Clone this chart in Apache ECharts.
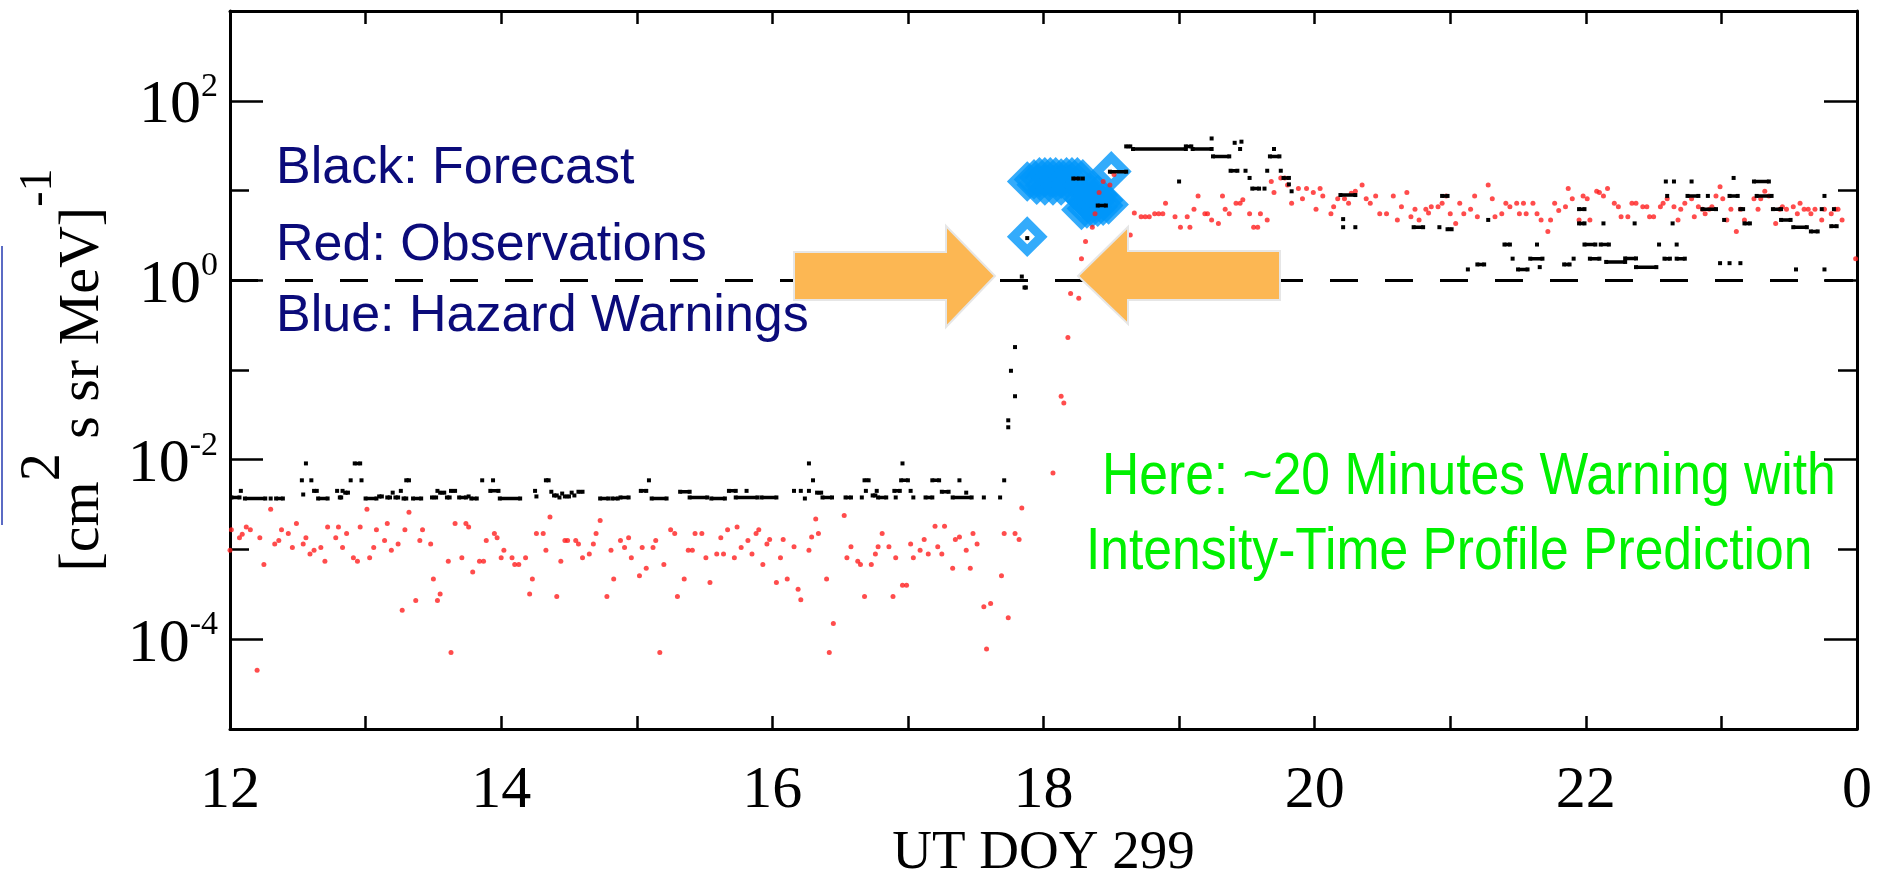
<!DOCTYPE html>
<html>
<head>
<meta charset="utf-8">
<script src="https://cdn.jsdelivr.net/npm/echarts@6/dist/echarts.min.js"></script>
<style>
  html, body { margin: 0; padding: 0; background: #fff; }
  #main { width: 1881px; height: 870px; }
</style>
</head>
<body>
<div id="main"></div>
<script>
// UT hour of DOY 299 (24 = 0 of next day), flux in (cm2 s sr MeV)^-1

// red: observations [hour, flux]
const observed = [
  [12.00, 9.8e-4], [12.01, 1.66e-3], [12.07, 1.35e-3], [12.09, 1.48e-3], [12.12, 1.78e-3], [12.15, 1.66e-3],
  [12.20, 4.5e-5], [12.22, 1.35e-3], [12.25, 6.8e-4], [12.30, 2.8e-3], [12.33, 1.15e-3], [12.36, 1.26e-3],
  [12.38, 1.66e-3], [12.43, 1.51e-3], [12.46, 1.05e-3], [12.49, 1.95e-3], [12.54, 1.15e-3], [12.56, 1.35e-3],
  [12.59, 8.9e-4], [12.62, 9.8e-4], [12.67, 1.05e-3], [12.70, 7.4e-4], [12.72, 1.78e-3], [12.78, 1.35e-3],
  [12.80, 1.78e-3], [12.83, 1.05e-3], [12.86, 1.51e-3], [12.91, 8.1e-4], [12.94, 7.4e-4], [12.96, 1.78e-3],
  [13.01, 2.8e-3], [13.03, 8.1e-4], [13.06, 1.05e-3], [13.08, 1.66e-3], [13.14, 1.26e-3], [13.16, 1.95e-3],
  [13.19, 9.8e-4], [13.24, 1.15e-3], [13.27, 2.1e-4], [13.29, 1.66e-3], [13.32, 2.6e-3], [13.37, 2.7e-4],
  [13.40, 1.26e-3], [13.42, 1.66e-3], [13.48, 1.15e-3], [13.50, 4.7e-4], [13.53, 2.7e-4], [13.55, 3.2e-4],
  [13.61, 7.4e-4], [13.63, 7.1e-5], [13.66, 1.95e-3], [13.71, 8.1e-4], [13.74, 1.95e-3], [13.76, 1.78e-3],
  [13.79, 5.6e-4], [13.84, 7.4e-4], [13.87, 7.4e-4], [13.89, 1.26e-3], [13.95, 1.51e-3], [13.97, 1.35e-3],
  [14.00, 8.1e-4], [14.02, 9.8e-4], [14.08, 8.1e-4], [14.10, 6.8e-4], [14.13, 6.8e-4], [14.18, 8.1e-4],
  [14.21, 3.2e-4], [14.23, 4.7e-4], [14.26, 1.51e-3], [14.31, 1.51e-3], [14.33, 9.8e-4], [14.36, 2.3e-3],
  [14.41, 3.0e-4], [14.44, 7.4e-4], [14.47, 1.26e-3], [14.49, 1.26e-3], [14.55, 1.26e-3], [14.57, 1.15e-3],
  [14.60, 8.1e-4], [14.65, 8.9e-4], [14.68, 1.15e-3], [14.70, 1.51e-3], [14.73, 2.1e-3], [14.78, 3.0e-4],
  [14.81, 9.8e-4], [14.83, 4.7e-4], [14.88, 1.26e-3], [14.91, 1.05e-3], [14.94, 1.35e-3], [14.96, 8.1e-4],
  [15.02, 5.1e-4], [15.04, 1.05e-3], [15.07, 6.2e-4], [15.12, 1.05e-3], [15.14, 1.26e-3], [15.17, 7.1e-5],
  [15.20, 6.8e-4], [15.25, 1.66e-3], [15.28, 1.51e-3], [15.30, 3.0e-4], [15.35, 4.7e-4], [15.38, 9.8e-4],
  [15.41, 9.8e-4], [15.43, 1.51e-3], [15.48, 1.51e-3], [15.51, 8.1e-4], [15.54, 4.3e-4], [15.59, 8.9e-4],
  [15.62, 1.35e-3], [15.64, 8.9e-4], [15.67, 1.66e-3], [15.72, 8.1e-4], [15.74, 1.78e-3], [15.77, 1.05e-3],
  [15.82, 1.26e-3], [15.85, 8.9e-4], [15.88, 1.51e-3], [15.90, 1.66e-3], [15.93, 6.8e-4], [15.96, 1.15e-3],
  [15.98, 1.29e-3], [16.03, 4.3e-4], [16.06, 8.1e-4], [16.08, 1.29e-3], [16.11, 4.7e-4], [16.16, 1.07e-3],
  [16.19, 3.6e-4], [16.21, 2.75e-4], [16.27, 9.8e-4], [16.29, 1.38e-3], [16.32, 2.19e-3], [16.34, 1.51e-3],
  [16.40, 4.7e-4], [16.42, 7.1e-5], [16.45, 1.5e-4], [16.53, 2.4e-3], [16.55, 8.1e-4], [16.58, 1.07e-3],
  [16.63, 7.4e-4], [16.65, 6.8e-4], [16.68, 3.0e-4], [16.73, 6.8e-4], [16.76, 8.9e-4], [16.78, 1.07e-3],
  [16.81, 1.51e-3], [16.86, 1.07e-3], [16.89, 3.0e-4], [16.91, 8.1e-4], [16.96, 4.0e-4], [16.99, 4.0e-4],
  [17.02, 1.15e-3], [17.04, 8.1e-4], [17.09, 9.8e-4], [17.12, 1.29e-3], [17.15, 8.9e-4], [17.20, 1.82e-3],
  [17.22, 1.07e-3], [17.25, 8.9e-4], [17.27, 1.82e-3], [17.33, 6.2e-4], [17.35, 1.29e-3], [17.38, 1.38e-3],
  [17.43, 9.8e-4], [17.46, 6.2e-4], [17.48, 1.51e-3], [17.51, 1.15e-3], [17.56, 2.3e-4], [17.58, 7.8e-5],
  [17.61, 2.5e-4], [17.69, 5.1e-4], [17.71, 1.51e-3], [17.74, 1.74e-4], [17.79, 1.51e-3], [17.82, 1.29e-3],
  [17.84, 2.9e-3], [18.07, 7.1e-3], [18.13, 5.1e-2], [18.15, 4.3e-2], [18.18, 0.23], [18.20, 0.71],
  [18.26, 0.63], [18.28, 1.74], [18.31, 2.7], [18.36, 3.9], [18.38, 5.5], [18.41, 9.5],
  [18.44, 12.6], [18.49, 11.5], [18.52, 15.1], [18.64, 3.2], [18.67, 5.6], [18.72, 5.1],
  [18.75, 5.1], [18.78, 5.1], [18.82, 5.5], [18.85, 5.5], [18.88, 5.5], [18.90, 7.2],
  [18.97, 5.1], [19.01, 3.9], [19.06, 5.1], [19.08, 3.9], [19.11, 6.2], [19.14, 8.7],
  [19.19, 5.5], [19.21, 5.5], [19.24, 4.7], [19.29, 4.3], [19.32, 8.7], [19.34, 6.2],
  [19.37, 5.5], [19.42, 7.2], [19.45, 7.2], [19.47, 7.9], [19.52, 5.5], [19.55, 3.9],
  [19.58, 3.9], [19.60, 5.5], [19.65, 4.7], [19.68, 12.6], [19.70, 9.5], [19.75, 13.8],
  [19.78, 13.8], [19.80, 11.5], [19.83, 7.2], [19.88, 10.5], [19.91, 8.1], [19.94, 10.5],
  [19.99, 9.5], [20.01, 6.2], [20.04, 10.5], [20.06, 8.7], [20.12, 5.5], [20.14, 6.6],
  [20.17, 8.1], [20.22, 8.1], [20.25, 7.2], [20.27, 9.3], [20.30, 9.8], [20.35, 11.5],
  [20.38, 8.1], [20.41, 7.2], [20.45, 8.7], [20.48, 5.5], [20.53, 5.5], [20.58, 8.7],
  [20.61, 4.7], [20.64, 6.6], [20.68, 9.5], [20.71, 5.1], [20.74, 6.2], [20.77, 4.7],
  [20.82, 6.2], [20.84, 5.6], [20.86, 6.6], [20.91, 6.6], [20.94, 7.2], [20.97, 8.7],
  [21.00, 5.5], [21.04, 4.3], [21.07, 7.2], [21.10, 5.5], [21.15, 6.2], [21.18, 8.7],
  [21.20, 5.1], [21.28, 11.5], [21.31, 8.1], [21.33, 5.1], [21.38, 5.5], [21.41, 7.2],
  [21.44, 6.6], [21.49, 7.2], [21.51, 5.5], [21.54, 7.2], [21.56, 5.5], [21.61, 7.2],
  [21.64, 5.5], [21.67, 4.7], [21.72, 3.5], [21.74, 4.7], [21.77, 7.2], [21.80, 6.0],
  [21.85, 6.6], [21.87, 10.5], [21.90, 8.1], [21.95, 4.7], [21.98, 8.7], [22.01, 8.1],
  [22.03, 4.7], [22.08, 9.8], [22.10, 9.5], [22.13, 8.7], [22.16, 10.5], [22.21, 7.2],
  [22.24, 6.6], [22.26, 5.1], [22.31, 5.1], [22.34, 7.2], [22.37, 7.2], [22.42, 6.6],
  [22.45, 6.6], [22.47, 5.1], [22.50, 5.1], [22.55, 6.6], [22.57, 7.2], [22.60, 8.1],
  [22.65, 6.6], [22.68, 4.7], [22.70, 6.2], [22.73, 7.2], [22.78, 8.1], [22.80, 5.1],
  [22.83, 6.6], [22.86, 6.2], [22.88, 5.5], [22.91, 6.2], [22.93, 6.6], [22.96, 8.7],
  [22.99, 11.0], [23.01, 8.1], [23.04, 4.7], [23.07, 6.2], [23.11, 3.5], [23.14, 6.2],
  [23.17, 4.7], [23.24, 8.1], [23.27, 6.2], [23.29, 8.1], [23.32, 9.8], [23.35, 8.7],
  [23.40, 4.3], [23.43, 6.2], [23.45, 6.6], [23.48, 6.2], [23.53, 6.6], [23.56, 5.5],
  [23.58, 7.2], [23.61, 6.2], [23.64, 6.2], [23.66, 5.5], [23.69, 6.2], [23.74, 4.7],
  [23.76, 6.2], [23.81, 5.5], [23.84, 6.2], [23.86, 6.2], [23.89, 4.7], [23.99, 1.74]
];

// black: forecast, as flat runs [from hour, to hour, flux]; from == to is a single dot
const forecastRuns = [
  [12.01, 12.07, 3.8e-3], [12.08, 12.08, 4.5e-3], [12.11, 12.26, 3.7e-3], [12.30, 12.30, 3.7e-3],
  [12.34, 12.39, 3.7e-3], [12.54, 12.54, 4.1e-3], [12.56, 12.56, 9.1e-3], [12.53, 12.53, 5.9e-3],
  [12.60, 12.60, 5.9e-3], [12.62, 12.64, 4.5e-3], [12.65, 12.72, 3.7e-3], [12.79, 12.79, 4.5e-3],
  [12.81, 12.82, 3.8e-3], [12.83, 12.83, 4.5e-3], [12.85, 12.87, 4.3e-3], [12.89, 12.89, 5.9e-3],
  [12.97, 12.97, 5.9e-3], [12.92, 12.96, 9.1e-3], [13.00, 13.08, 3.7e-3], [13.10, 13.12, 3.9e-3],
  [13.16, 13.18, 3.8e-3], [13.20, 13.20, 4.3e-3], [13.22, 13.24, 3.8e-3], [13.26, 13.26, 4.5e-3],
  [13.28, 13.30, 3.7e-3], [13.30, 13.32, 5.9e-3], [13.35, 13.41, 3.7e-3], [13.49, 13.52, 3.8e-3],
  [13.53, 13.53, 4.5e-3], [13.55, 13.58, 4.3e-3], [13.60, 13.62, 3.8e-3], [13.63, 13.66, 4.5e-3],
  [13.69, 13.74, 3.8e-3], [13.76, 13.76, 3.9e-3], [13.78, 13.82, 3.7e-3], [13.86, 13.86, 5.9e-3],
  [13.94, 13.94, 5.9e-3], [13.92, 13.98, 4.5e-3], [13.99, 14.14, 3.7e-3], [14.25, 14.25, 4.5e-3],
  [14.26, 14.26, 3.9e-3], [14.33, 14.35, 5.9e-3], [14.37, 14.37, 4.4e-3], [14.39, 14.41, 4.0e-3],
  [14.43, 14.43, 3.8e-3], [14.45, 14.45, 4.2e-3], [14.47, 14.50, 3.9e-3], [14.52, 14.52, 4.3e-3],
  [14.54, 14.54, 4.0e-3], [14.57, 14.60, 4.4e-3], [14.73, 14.79, 3.7e-3], [14.82, 14.86, 3.7e-3],
  [14.88, 14.94, 3.8e-3], [15.03, 15.07, 4.5e-3], [15.09, 15.09, 5.9e-3], [15.11, 15.22, 3.7e-3],
  [15.32, 15.39, 4.4e-3], [15.39, 15.52, 3.8e-3], [15.55, 15.65, 3.7e-3], [15.68, 15.73, 4.5e-3],
  [15.73, 15.89, 3.8e-3], [15.81, 15.81, 4.5e-3], [15.92, 16.03, 3.8e-3], [16.16, 16.16, 4.5e-3],
  [16.21, 16.21, 4.5e-3], [16.27, 16.27, 4.5e-3], [16.24, 16.24, 3.7e-3], [16.30, 16.30, 5.9e-3],
  [16.27, 16.27, 9.1e-3], [16.33, 16.36, 4.3e-3], [16.37, 16.44, 3.8e-3], [16.54, 16.58, 3.8e-3],
  [16.66, 16.66, 3.8e-3], [16.68, 16.71, 5.9e-3], [16.69, 16.69, 4.5e-3], [16.74, 16.76, 4.0e-3],
  [16.77, 16.77, 4.5e-3], [16.78, 16.84, 3.8e-3], [16.90, 16.94, 4.5e-3], [16.91, 16.91, 3.8e-3],
  [16.96, 16.96, 9.1e-3], [16.95, 17.00, 5.9e-3], [17.02, 17.02, 4.5e-3], [17.04, 17.04, 3.8e-3],
  [17.13, 17.18, 3.8e-3], [17.18, 17.23, 5.9e-3], [17.25, 17.30, 4.4e-3], [17.33, 17.47, 3.8e-3],
  [17.38, 17.38, 5.9e-3], [17.43, 17.43, 4.3e-3], [17.56, 17.56, 3.8e-3], [17.68, 17.68, 3.8e-3],
  [17.71, 17.71, 5.9e-3], [17.74, 17.74, 2.75e-2], [17.74, 17.74, 2.3e-2], [17.79, 17.79, 5.1e-2],
  [17.76, 17.76, 9.8e-2], [17.79, 17.79, 0.18], [17.84, 17.84, 1.1], [17.86, 17.87, 0.83],
  [17.88, 17.88, 2.95], [18.22, 18.26, 13.6], [18.29, 18.29, 13.6], [18.40, 18.46, 6.8],
  [18.49, 18.61, 16.2], [18.61, 18.64, 31], [18.66, 19.05, 29], [19.05, 19.09, 31],
  [19.10, 19.24, 29], [19.24, 19.24, 38], [19.25, 19.37, 24], [19.41, 19.41, 34],
  [19.46, 19.46, 35], [19.45, 19.45, 29], [19.70, 19.70, 29], [19.67, 19.74, 24],
  [19.00, 19.00, 12.6], [19.38, 19.43, 16.6], [19.49, 19.49, 16.6], [19.52, 19.52, 13.8],
  [19.65, 19.65, 16.6], [19.75, 19.75, 16.6], [19.77, 19.81, 13.8], [19.81, 19.81, 11.7],
  [19.83, 19.83, 9.8], [19.54, 19.59, 10.5], [19.63, 19.63, 10.5], [20.19, 20.30, 8.9],
  [20.21, 20.21, 4.8], [20.21, 20.21, 3.9], [20.30, 20.30, 3.9], [20.73, 20.80, 3.9],
  [20.92, 20.92, 3.9], [20.98, 21.01, 3.7], [20.94, 20.98, 8.7], [21.13, 21.13, 1.32],
  [21.20, 21.25, 1.5], [21.28, 21.28, 4.7], [21.40, 21.44, 2.5], [21.46, 21.46, 1.74],
  [21.50, 21.57, 1.32], [21.59, 21.68, 1.74], [21.64, 21.64, 2.5], [21.66, 21.66, 1.4],
  [21.84, 21.88, 1.5], [21.91, 21.91, 1.74], [21.95, 21.99, 6.2], [21.95, 21.99, 4.3],
  [21.99, 22.07, 2.5], [22.11, 22.17, 2.5], [22.03, 22.10, 1.74], [22.15, 22.29, 1.6],
  [22.29, 22.37, 1.75], [22.37, 22.52, 1.4], [22.13, 22.13, 4.3], [22.36, 22.36, 4.3],
  [22.54, 22.54, 2.5], [22.58, 22.62, 1.74], [22.67, 22.67, 2.5], [22.67, 22.73, 1.74],
  [22.64, 22.64, 4.3], [22.59, 22.59, 12.6], [22.65, 22.65, 12.6], [22.60, 22.60, 8.7],
  [22.78, 22.78, 12.6], [22.75, 22.83, 8.7], [22.90, 22.90, 8.7], [22.86, 22.96, 6.2],
  [22.99, 22.99, 1.55], [23.02, 23.02, 4.7], [23.06, 23.06, 1.55], [23.14, 23.14, 1.55],
  [23.09, 23.09, 13.8], [23.06, 23.12, 8.7], [23.14, 23.16, 6.2], [23.17, 23.21, 4.3],
  [23.24, 23.35, 12.6], [23.26, 23.37, 8.7], [23.38, 23.44, 6.2], [23.44, 23.51, 4.7],
  [23.53, 23.63, 3.9], [23.66, 23.71, 3.5], [23.55, 23.55, 1.32], [23.76, 23.76, 1.32],
  [23.76, 23.76, 8.7], [23.74, 23.74, 6.2], [23.81, 23.85, 4.0], [23.83, 23.83, 6.2]
];

// blue: hazard warnings [hour, flux]
const warnings = [
  [17.88, 3.06],
  [17.88, 12.6], [17.93, 13.3], [17.97, 14.0], [18.01, 14.0], [18.05, 14.0], [18.09, 14.0],
  [18.13, 13.6], [18.17, 14.0], [18.21, 14.0], [18.25, 14.0], [18.29, 13.3],
  [17.95, 11.6], [18.01, 11.4], [18.07, 11.4], [18.13, 11.4], [18.19, 11.6],
  [18.34, 9.5], [18.40, 8.9], [18.30, 8.0],
  [18.28, 6.1], [18.32, 6.3], [18.36, 6.5], [18.40, 6.6], [18.44, 6.8], [18.48, 7.0],
  [18.32, 7.5], [18.38, 7.6], [18.44, 7.8],
  [18.50, 16.3]
];

const threshold = 1;
const xLabelHours = [12, 14, 16, 18, 20, 22, 24];
const xLabelText = ['12', '14', '16', '18', '20', '22', '0'];
const yLabelValues = [1e-4, 1e-2, 1, 1e2];
const yLabelExp = ['-4', '-2', '0', '2'];

const forecastLine = [];
forecastRuns.forEach(([a, b, v]) => {
  forecastLine.push([a, v]);
  if (b !== a) forecastLine.push([b, v]);
  forecastLine.push([b, '-']);
});

const serif = '"Liberation Serif", "DejaVu Serif", serif';
const sans = '"Liberation Sans", Arial, sans-serif';

const chart = echarts.init(document.getElementById('main'));

const xBase = {
  type: 'value', min: 12, max: 24, interval: 1,
  axisLine: { lineStyle: { color: '#000', width: 3 } },
  axisTick: { inside: true, length: 13, lineStyle: { color: '#000', width: 2.5 } },
  splitLine: { show: false }
};
const yBase = {
  type: 'log', logBase: 10, min: 1e-5, max: 1e3, interval: 1, splitNumber: 8,
  splitLine: { show: false }
};

const option = {
  animation: false,
  backgroundColor: '#ffffff',
  grid: { left: 230, right: 24, top: 11, bottom: 141, outerBoundsMode: 'none', containLabel: false },
  xAxis: [
    Object.assign({}, xBase, {
      position: 'bottom',
      name: 'UT DOY 299', nameLocation: 'middle', nameGap: 95,
      nameTextStyle: { fontFamily: serif, fontSize: 55, color: '#000' },
      axisLabel: {
        customValues: xLabelHours,
        margin: 32, fontFamily: serif, fontSize: 60, color: '#000',
        formatter: v => xLabelText[xLabelHours.indexOf(Math.round(v))]
      }
    }),
    Object.assign({}, xBase, { position: 'top', axisLabel: { show: false } })
  ],
  yAxis: [
    Object.assign({}, yBase, {
      position: 'left',
      axisLine: { lineStyle: { color: '#000', width: 3 } },
      axisTick: { inside: true, length: 19, lineStyle: { color: '#000', width: 2.5 } },
      axisLabel: {
        customValues: yLabelValues,
        margin: 12, color: '#000',
        formatter: v => {
          const i = yLabelValues.findIndex(t => Math.abs(Math.log10(t) - Math.log10(v)) < 1e-6);
          return '{b|10}{e|' + yLabelExp[i] + '}';
        },
        rich: {
          b: { fontFamily: serif, fontSize: 62, lineHeight: 62, verticalAlign: 'middle', color: '#000', padding: [10, 0, 0, 0] },
          e: { fontFamily: serif, fontSize: 34, lineHeight: 62, verticalAlign: 'top', color: '#000' }
        }
      },
      name: '{m|[cm}{s|2}{m| s sr MeV]}{u|-1}',
      nameLocation: 'middle', nameRotate: 90, nameGap: 118,
      nameTextStyle: {
        rich: {
          m: { fontFamily: serif, fontSize: 58, lineHeight: 96, verticalAlign: 'bottom', color: '#000' },
          s: { fontFamily: serif, fontSize: 56, lineHeight: 96, verticalAlign: 'top', color: '#000' },
          u: { fontFamily: serif, fontSize: 46, lineHeight: 96, verticalAlign: 'top', color: '#000' }
        }
      }
    }),
    Object.assign({}, yBase, {
      position: 'left',
      axisLine: { show: false },
      axisTick: { inside: true, length: 33, customValues: yLabelValues, lineStyle: { color: '#000', width: 2.5 } },
      axisLabel: { show: false }
    }),
    Object.assign({}, yBase, {
      position: 'right',
      axisLine: { lineStyle: { color: '#000', width: 3 } },
      axisTick: { inside: true, length: 19, lineStyle: { color: '#000', width: 2.5 } },
      axisLabel: { show: false }
    }),
    Object.assign({}, yBase, {
      position: 'right',
      axisLine: { show: false },
      axisTick: { inside: true, length: 33, customValues: yLabelValues, lineStyle: { color: '#000', width: 2.5 } },
      axisLabel: { show: false }
    })
  ],
  series: [
    {
      name: 'Hazard Warnings', type: 'scatter', z: 2,
      data: warnings,
      symbol: 'diamond', symbolSize: 28,
      itemStyle: { color: 'rgba(0,0,0,0)', borderColor: '#0096fa', borderWidth: 9 }
    },
    {
      name: 'Observations', type: 'scatter', z: 3,
      data: observed,
      symbolSize: 5,
      itemStyle: { color: '#ff1f1f' },
      markLine: {
        silent: true, symbol: ['none', 'none'], label: { show: false },
        lineStyle: { color: '#000', width: 3, type: [28, 27] },
        data: [{ yAxis: threshold }]
      }
    },
    {
      name: 'Forecast', type: 'line', z: 4,
      data: forecastLine,
      symbol: 'rect', symbolSize: 4, showSymbol: true, showAllSymbol: true,
      connectNulls: false,
      lineStyle: { color: '#000', width: 3.5 },
      itemStyle: { color: '#000', borderWidth: 0 }
    }
  ],
  graphic: [
    { type: 'line', z: 50, shape: { x1: 2, y1: 246, x2: 2, y2: 525 }, style: { stroke: '#5b6bc4', lineWidth: 2 } },
    { type: 'polygon', z: 100,
      shape: { points: [[794, 252], [946, 252], [946, 226], [995, 276], [946, 327], [946, 300], [794, 300]] },
      style: { fill: '#fcb753', stroke: '#e6e6e6', lineWidth: 2 } },
    { type: 'polygon', z: 100,
      shape: { points: [[1280, 251], [1128, 251], [1128, 227], [1078, 276], [1128, 324], [1128, 300], [1280, 300]] },
      style: { fill: '#fcb753', stroke: '#e6e6e6', lineWidth: 2 } },
    { type: 'text', z: 100, x: 276, y: 169,
      style: { text: 'Black: Forecast', font: '52px ' + sans, fill: '#0b0b7a', textAlign: 'left', textVerticalAlign: 'middle' } },
    { type: 'text', z: 100, x: 276, y: 246,
      style: { text: 'Red: Observations', font: '52px ' + sans, fill: '#0b0b7a', textAlign: 'left', textVerticalAlign: 'middle' } },
    { type: 'text', z: 100, x: 276, y: 317,
      style: { text: 'Blue: Hazard Warnings', font: '52px ' + sans, fill: '#0b0b7a', textAlign: 'left', textVerticalAlign: 'middle' } },
    { type: 'text', z: 100, x: 1102, y: 477, scaleX: 0.86,
      style: { text: 'Here: ~20 Minutes Warning with', font: '60px ' + sans, fill: '#00f000', textAlign: 'left', textVerticalAlign: 'middle' } },
    { type: 'text', z: 100, x: 1086, y: 552, scaleX: 0.86,
      style: { text: 'Intensity-Time Profile Prediction', font: '60px ' + sans, fill: '#00f000', textAlign: 'left', textVerticalAlign: 'middle' } }
  ]
};

chart.setOption(option);
</script>
</body>
</html>
